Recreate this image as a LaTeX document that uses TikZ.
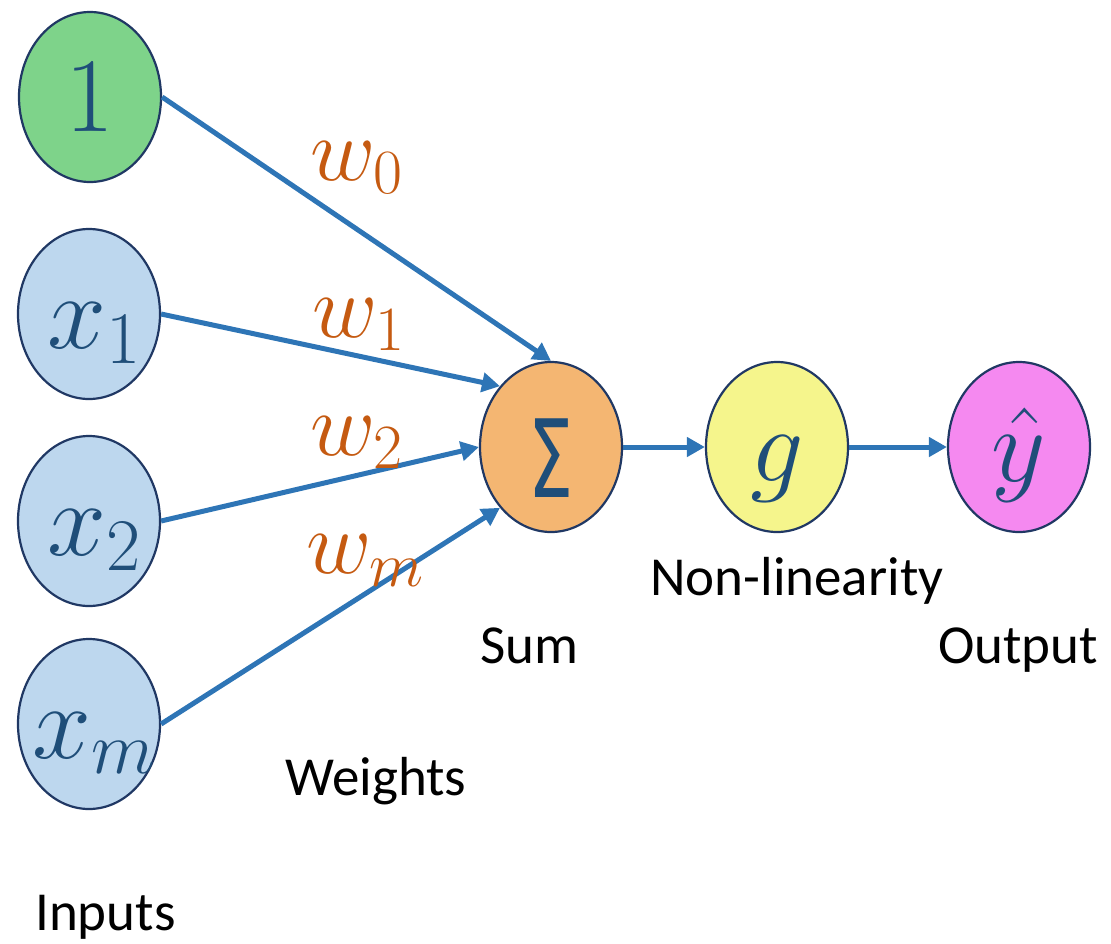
\RequirePackage{fix-cm}
\documentclass[tikz,border=0pt]{standalone}
\usepackage[no-math]{fontspec}
\newfontfamily\labelfont{Carlito}
\newfontfamily\sigmafont{DejaVu Sans}
\usetikzlibrary{shapes.geometric,arrows.meta}
\definecolor{nodeline}{HTML}{203864}
\definecolor{nodetext}{HTML}{1F4E79}
\definecolor{arrowblue}{HTML}{2E75B6}
\definecolor{wcol}{HTML}{C55A11}
\definecolor{cgreen}{HTML}{7ED38A}
\definecolor{cblue}{HTML}{BDD7EE}
\definecolor{corange}{HTML}{F4B672}
\definecolor{cyellow}{HTML}{F5F58C}
\definecolor{cpink}{HTML}{F589F0}
\newcommand{\nodemath}[1]{\makebox[0pt]{\hspace{10pt}$#1$}}
\begin{document}
\begin{tikzpicture}[x=1pt,y=-1pt,
  neuron/.style={ellipse, draw=nodeline, line width=2.2pt, minimum width=142pt,
    minimum height=170pt, inner sep=0pt, text=nodetext,
    font=\fontsize{106}{106}\selectfont, text height=68pt, text depth=0pt},
  conn/.style={draw=arrowblue, line width=5pt, -{Triangle[length=18pt,width=19pt]}},
  wlab/.style={text=wcol, font=\fontsize{90}{90}\selectfont, anchor=base west, inner sep=0pt},
  lab/.style={font=\labelfont\fontsize{55}{55}\selectfont, anchor=base west, inner sep=0pt}]
\useasboundingbox (0,0) rectangle (1111,943);
% neurons
\node[neuron, fill=cgreen] (one) at (90,97) {$1$};
\node[neuron, fill=cblue] (x1) at (89,314) {\nodemath{x_1}};
\node[neuron, fill=cblue] (x2) at (89,521) {\nodemath{x_2}};
\node[neuron, fill=cblue] (xm) at (89,724) {\nodemath{x_m}};
\node[neuron, fill=corange, text height=100pt] (sum) at (551,447)
  {\sigmafont\fontsize{108}{108}\selectfont\scalebox{0.66}[1]{Σ}};
\node[neuron, fill=cyellow] (g) at (777,447) {$g$};
\node[neuron, fill=cpink] (yhat) at (1019,447) {$\hat{y}$};
% connectors
\draw[conn] (one.east) -- (sum.north);
\draw[conn] (x1.east) -- (sum.130);
\draw[conn] (x2.east) -- (sum.west);
\draw[conn] (xm.east) -- (sum.230);
\draw[conn] (sum) -- (g);
\draw[conn] (g) -- (yhat);
% weights
\node[wlab] (w0) at (310,180) {$w_0$};
\node[wlab] (w1) at (312,337) {$w_1$};
\node[wlab] (w2) at (310,455) {$w_2$};
\node[wlab] (wm) at (306,573) {$w_m$};
% labels
\node[lab] (linputs) at (35,930) {Inputs};
\node[lab] (lweights) at (285,795) {Weights};
\node[lab] (lsum) at (480,663) {Sum};
\node[lab] (lnonlin) at (650,595) {Non-linearity};
\node[lab] (loutput) at (938,663) {Output};
\end{tikzpicture}
\end{document}
